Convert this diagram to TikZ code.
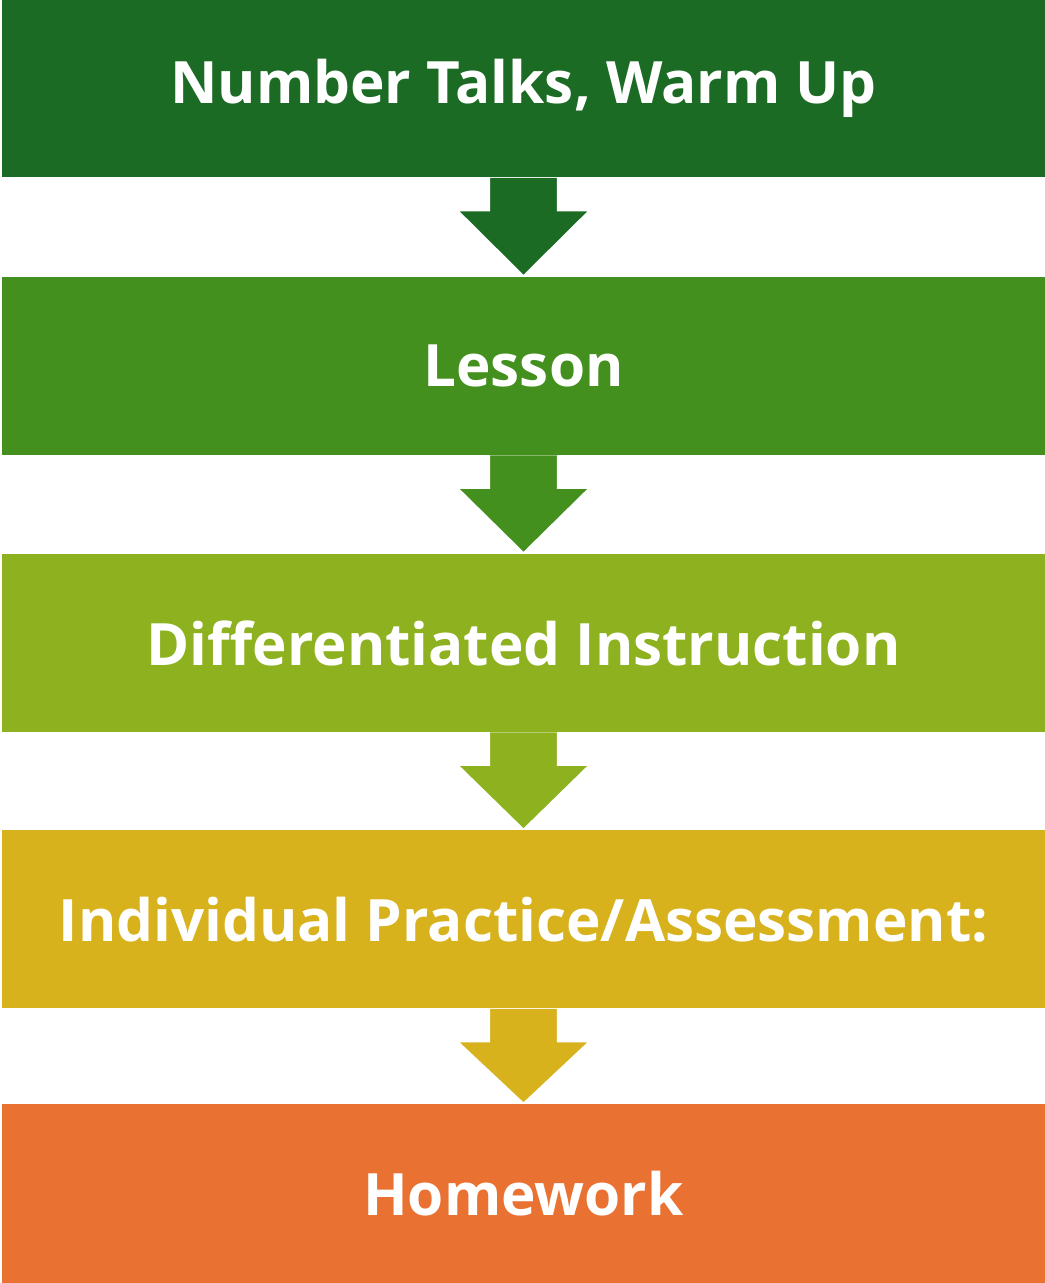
\documentclass[tikz,border=0pt]{standalone}
\usepackage{fontspec}
\setmainfont{Open Sans}[BoldFont={Open Sans Bold}]
\usepackage{tikz}
\usetikzlibrary{calc}

\definecolor{stageA}{RGB}{27,107,36}
\definecolor{stageB}{RGB}{67,144,30}
\definecolor{stageC}{RGB}{141,177,31}
\definecolor{stageD}{RGB}{216,178,28}
\definecolor{stageE}{RGB}{233,114,51}

\tikzset{
  stage/.style={rectangle, fill=#1, inner sep=0pt,
    minimum width=782.25pt, minimum height=133.5pt,
    text=white, font=\fontsize{43.8}{50}\selectfont\bfseries},
  flow/.style={fill=#1, draw=white, line width=1pt, line join=miter}
}

\newcommand{\stagearrow}[3]{%
  \path[flow=#3] ($(#1.south)+(-34,0)$) -- ++(0,-33) -- ++(-31.5,0)
    -- ($(#2.north)+(0,1)$) -- ($(#1.south)+(65.5,-33)$) -- ++(-31.5,0)
    -- ($(#1.south)+(34,0)$);}

\begin{document}
\begin{tikzpicture}[x=0.75pt, y=0.75pt]
            \useasboundingbox (0,0) rectangle (1045,1283);
            \node[stage=stageA] (talks)    at (523.5,1194.5) {Number Talks, Warm Up};
            \node[stage=stageB] (lesson)   at (523.5,917)    {Lesson};
            \node[stage=stageC] (diff)     at (523.5,640)    {Differentiated Instruction};
            \node[stage=stageD] (practice) at (523.5,363.5)  {Individual Practice/Assessment:};
            \node[stage=stageE] (homework) at (523.5,89.5)   {Homework};
            \stagearrow{talks}{lesson}{stageA}
            \stagearrow{lesson}{diff}{stageB}
            \stagearrow{diff}{practice}{stageC}
            \stagearrow{practice}{homework}{stageD}
        \end{tikzpicture}
\end{document}
